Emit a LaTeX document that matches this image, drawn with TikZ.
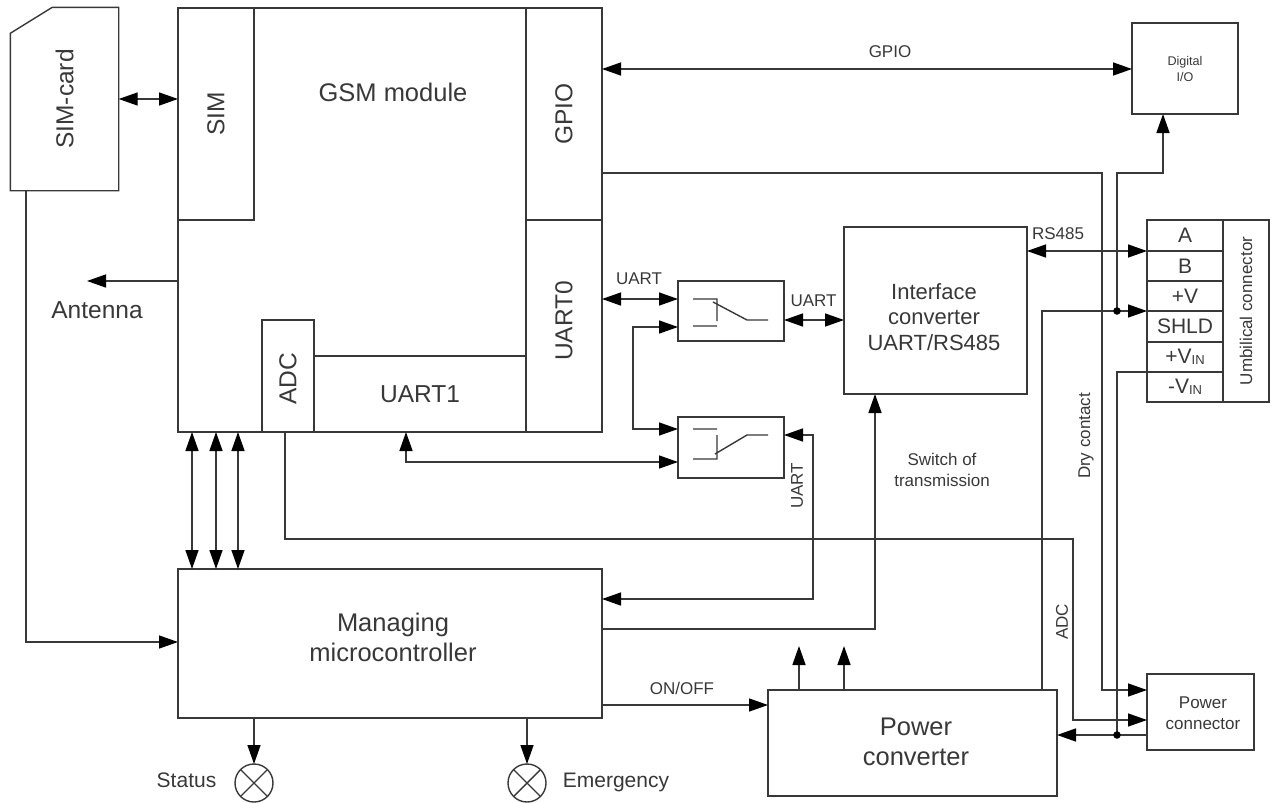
\documentclass[tikz,border=0pt]{standalone}
\usepackage{fontspec}
\setmainfont{Liberation Sans}
\usetikzlibrary{arrows.meta}

\begin{document}
\begin{tikzpicture}[x=1pt,y=-1pt,line width=1.4pt,draw=black!78,text=black!78]
	\tikzstyle{block} = [draw, inner sep=0pt, outer sep=0pt, align=center]
	\tikzstyle{toarrow} = [-{Triangle[length=19pt,width=13pt,black]}]
	\tikzstyle{biarrow} = [{Triangle[length=19pt,width=13pt,black]}-{Triangle[length=19pt,width=13pt,black]}]
	\tikzstyle{large} = [align=center, font=\fontsize{25.5}{30.5}\selectfont]
	\tikzstyle{big} = [font=\fontsize{24.5}{29}\selectfont]
	\tikzstyle{mid} = [font=\fontsize{21}{25}\selectfont]
	\tikzstyle{small} = [align=center, font=\fontsize{17}{20.5}\selectfont]
	\useasboundingbox (0,0) rectangle (1278,803);
	% GSM module
	\node[block, minimum width=424pt, minimum height=424pt] (gsm) at (390,220) {};
	\node[large] (gsmlabel) at (393,92) {GSM module};
	\node[block, big, minimum width=76pt, minimum height=212pt] (sim) at (216,114) {\rotatebox{90}{SIM}};
	\node[block, big, minimum width=76pt, minimum height=212pt] (gpio) at (564,114) {\rotatebox{90}{GPIO}};
	\node[block, minimum width=76pt, minimum height=212pt] (uartzero) at (564,326) {};
	\node[big] (uartzerolabel) at (564,321) {\rotatebox{90}{UART0}};
	\node[block, big, minimum width=212pt, minimum height=76pt] (uartone) at (420,394) {UART1};
	\node[block, minimum width=52pt, minimum height=112pt] (adc) at (288,376) {};
	\node[big] (adclabel) at (288,379) {\rotatebox{90}{ADC}};
	% SIM card
	\node[big, minimum width=107pt, minimum height=182pt, inner sep=0pt] (simcard) at (64.5,99) {\rotatebox{90}{SIM-card}};
	\draw (simcard.north west) ++(0,26) -- ++(42,-26) -- (simcard.north east) -- (simcard.south east) -- (simcard.south west) -- cycle;
	% other blocks
	\node[block, minimum width=424pt, minimum height=149pt] (mcu) at (390,643.5) {};
	\node[large] (mculabel) at (393,637.5) {Managing\\microcontroller};
	\node[block, minimum width=183pt, minimum height=167pt] (conv) at (935.5,310.5) {};
	\node[align=center, font=\fontsize{22}{25.5}\selectfont] (convlabel) at (934,317) {Interface\\converter\\UART/RS485};
	\node[block, minimum width=289pt, minimum height=106pt] (power) at (912.5,743) {};
	\node[large] (powerlabel) at (916,742) {Power\\converter};
	\node[block, font=\fontsize{12.6}{16}\selectfont, minimum width=106pt, minimum height=91pt] (digital) at (1185,68.5) {Digital\\I/O};
	\node[block, minimum width=107pt, minimum height=76pt] (pconn) at (1200.5,712) {};
	\node[small] (pconnlabel) at (1203,713) {Power\\connector};
	\node[block, minimum width=106pt, minimum height=60pt] (swone) at (731,311) {};
	\node[block, minimum width=106pt, minimum height=61pt] (swtwo) at (731,447.5) {};
	% umbilical connector
	\node[block, mid, minimum width=76pt, minimum height=31pt] (pina) at (1185,235.5) {A};
	\node[block, mid, minimum width=76pt, minimum height=30pt] (pinb) at (1185,266) {B};
	\node[block, mid, minimum width=76pt, minimum height=30pt] (pinv) at (1185,296) {+V};
	\node[block, mid, minimum width=76pt, minimum height=31pt] (pinshld) at (1185,326.5) {SHLD};
	\node[block, mid, minimum width=76pt, minimum height=30pt] (pinvin) at (1185,357) {+V\raisebox{-1pt}{\fontsize{13}{13}\selectfont IN}};
	\node[block, mid, minimum width=76pt, minimum height=30pt] (pinvout) at (1185,387) {-V\raisebox{-1pt}{\fontsize{13}{13}\selectfont IN}};
	\node[block, small, minimum width=46pt, minimum height=182pt] (umb) at (1246,311) {\rotatebox{90}{Umbilical connector}};
	% lamps
	\node[block, circle, minimum size=38pt] (status) at (254,783) {};
	\node[block, circle, minimum size=38pt] (emergency) at (527,783) {};
	\draw (status.45) -- (status.225) (status.135) -- (status.315);
	\draw (emergency.45) -- (emergency.225) (emergency.135) -- (emergency.315);
	% switch symbols
	\draw (693,299) -- (717,299) -- (717,321) (713,302) -- (747,320) -- (768,320) (693,326) -- (717,326);
	\draw (693,429) -- (717,429) (717,435) -- (717,459) -- (693,459) (715,454) -- (747,435) -- (768,435);
	% connectors
	\draw[biarrow] (simcard.east |- 0,99) -- (sim.west |- 0,99);
	\draw[toarrow] (gsm.west |- 0,281) -- (87,281);
	\draw[toarrow] (simcard.south -| 26,0) |- (mcu.west |- 0,642);
	\draw[biarrow] (gpio.east |- 0,69) -- (digital.west |- 0,69);
	\draw[biarrow] (uartzero.east |- 0,299) -- (swone.west |- 0,299);
	\draw[biarrow] (swone.east |- 0,320) -- (conv.west |- 0,320);
	\draw[biarrow] (conv.east |- 0,251) -- (pina.west |- 0,251);
	\draw[biarrow] (swone.west |- 0,327) -- (633,327) -- (633,429) -- (swtwo.west |- 0,429);
	\draw[biarrow] (uartone.south -| 406,0) -- (406,462) -- (swtwo.west |- 0,462);
	\draw[biarrow] (swtwo.east |- 0,435) -- (813,435) -- (813,599) -- (mcu.east |- 0,599);
	\draw[biarrow] (gsm.south -| 192,0) -- (mcu.north -| 192,0);
	\draw[biarrow] (gsm.south -| 216,0) -- (mcu.north -| 216,0);
	\draw[biarrow] (gsm.south -| 238,0) -- (mcu.north -| 238,0);
	\draw[toarrow] (mcu.east |- 0,629) -| (conv.south -| 875,0);
	\draw[toarrow] (mcu.east |- 0,705) -- (power.west |- 0,705);
	\draw[toarrow] (status.north |- mcu.south) -- (status.north);
	\draw[toarrow] (emergency.north |- mcu.south) -- (emergency.north);
	\draw[toarrow] (power.north -| 799,0) -- (799,646);
	\draw[toarrow] (power.north -| 844,0) -- (844,646);
	\draw[toarrow] (gpio.east |- 0,173) -- (1102,173) -- (1102,690) -- (pconn.west |- 0,690);
	\draw[toarrow] (adc.south -| 285,0) -- (285,539) -- (1073,539) -- (1073,720) -- (pconn.west |- 0,720);
	\draw[toarrow] (pconn.west |- 0,735) -- (power.east |- 0,735);
	\draw[toarrow] (power.north -| 1042,0) -- (1042,311) -- (pinshld.west |- 0,311);
	\draw[toarrow] (1117,311) -- (1117,173) -- (1163,173) -- (digital.south -| 1163,0);
	\draw (pinvout.north west) -- (1117,372) -- (1117,735);
	\filldraw[black] (1117,311) circle (3pt) (1117,735) circle (3pt);
	% labels
	\node[big] (antenna) at (97,310) {Antenna};
	\node[small] (lgpio) at (890,52) {GPIO};
	\node[small] (lrs) at (1058,234) {RS485};
	\node[small] (luartone) at (639,279) {UART};
	\node[small] (luarttwo) at (813.5,301) {UART};
	\node[small] (luartthree) at (797,486) {\rotatebox{90}{UART}};
	\node[small] (lswitch) at (942,470) {Switch of\\transmission};
	\node[small] (ldry) at (1086,436) {\rotatebox{90}{Dry contact}};
	\node[small] (ladc) at (1062,622) {\rotatebox{90}{ADC}};
	\node[small] (lonoff) at (682,688) {ON/OFF};
	\node[mid, anchor=base] (lstatus) at (186.5,787) {Status};
	\node[mid, anchor=base] (lemergency) at (616,787) {Emergency};
\end{tikzpicture}
\end{document}
